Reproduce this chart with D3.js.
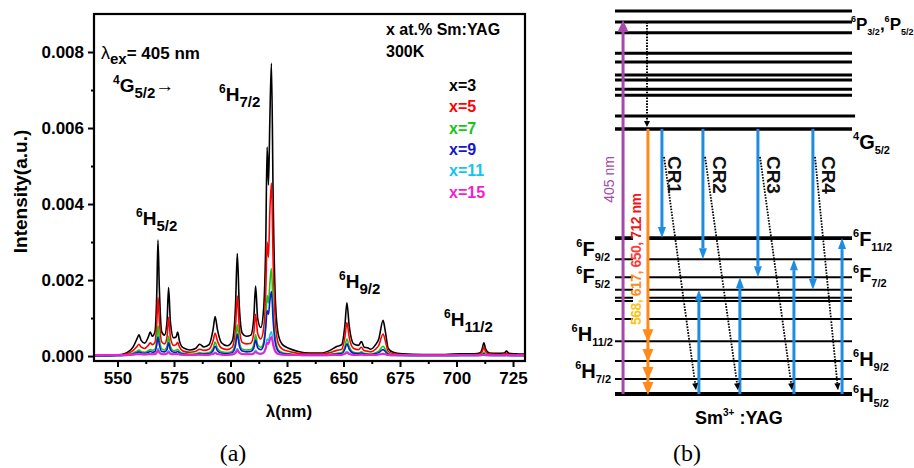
<!DOCTYPE html>
<html><head><meta charset="utf-8">
<script src="https://cdn.jsdelivr.net/npm/d3@7"></script>
<style>
body{margin:0;background:#fff}
svg{display:block;font-family:"Liberation Sans",Arial,Helvetica,sans-serif}
</style>
</head><body>
<svg id="chart" width="914" height="468"></svg>
<script>
// ---------------- Panel (a) data ----------------
const wavelengths = [
  540, 545, 550, 553, 555, 557, 558.6, 559.5, 560.4, 562,
  563.6, 564.5, 565.4, 566.6, 567.4, 567.9, 568.5, 569.5, 570.8, 571.9,
  572.6, 573.4, 574.8, 575.9, 576.6, 577.4, 579, 582, 584.5, 586.4,
  588.2, 590.5, 592.3, 593.2, 594.2, 596, 598.5, 600.8, 602.2, 603,
  603.9, 605.2, 607, 609, 610.3, 611.1, 612, 613.4, 614.6, 615.6,
  616.2, 616.8, 617.4, 618.1, 618.9, 619.9, 621.2, 623, 626, 630,
  635, 640, 644, 647, 649.2, 650.6, 651.5, 652.5, 654.5, 656.6,
  657.9, 659.2, 660.6, 662, 664.2, 665.6, 667.5, 668.5, 669.8, 672,
  676, 685, 695, 702, 708, 710.5, 711.4, 712.1, 712.9, 714.5,
  718, 721.2, 722.1, 723.2, 726, 730
];
// intensities in units of 1e-4 a.u.
const x3 = [
  0.2, 0.2, 0.3, 0.6, 1.2, 2.5, 4.5, 5.6, 4.2, 3.4,
  5.0, 6.3, 5.2, 6.5, 17, 30.5, 18, 6.5, 5.5, 9,
  18, 9, 4.8, 5, 6.3, 4, 2.2, 1.6, 2, 3.1,
  2.4, 3, 7, 10.4, 7, 3.5, 2.7, 4, 13, 27,
  13, 6, 5.2, 5.5, 10, 18.4, 10, 7.5, 12, 30,
  55, 45, 62, 77, 40, 14, 5.5, 3, 2, 1.2,
  0.8, 0.8, 1.5, 2.5, 3, 8, 14, 8, 3.2, 2.8,
  3.8, 2.3, 2.2, 1.8, 3, 4.5, 9.4, 6.5, 2, 1,
  0.6, 0.4, 0.4, 0.6, 0.6, 0.9, 2, 3.5, 1.8, 0.8,
  0.7, 0.8, 1.3, 0.7, 0.6, 0.5
];
const x5 = [
  0.1, 0.1, 0.2, 0.4, 0.8, 1.5, 2.5, 3.1, 2.4, 2,
  2.8, 3.5, 3, 3.6, 9, 15.5, 9.5, 3.8, 3.2, 5,
  10.2, 5, 2.8, 3, 3.6, 2.4, 1.3, 1, 1.2, 1.8,
  1.5, 1.8, 4, 6, 4, 2.1, 1.7, 2.4, 7.5, 15.8,
  7.5, 3.6, 3.2, 3.4, 6, 11, 6, 4.5, 7, 17,
  30, 26, 38, 45.5, 24, 8.5, 3.2, 1.8, 1.2, 0.7,
  0.5, 0.5, 0.9, 1.5, 1.8, 5, 8.8, 5, 2, 1.7,
  2.3, 1.4, 1.3, 1.1, 1.8, 2.8, 5.8, 4, 1.2, 0.6,
  0.35, 0.25, 0.25, 0.35, 0.35, 0.5, 1.2, 2.3, 1.1, 0.5,
  0.4, 0.45, 0.7, 0.4, 0.35, 0.3
];
const x7 = [
  0.1, 0.1, 0.15, 0.25, 0.4, 0.8, 1.3, 1.6, 1.2, 1,
  1.4, 1.7, 1.5, 1.8, 4.5, 8, 4.8, 1.9, 1.6, 2.5,
  5.2, 2.5, 1.4, 1.5, 1.8, 1.2, 0.7, 0.5, 0.6, 0.9,
  0.75, 0.9, 2, 3.7, 2, 1.1, 0.9, 1.3, 3.8, 8.2,
  3.8, 1.8, 1.6, 1.7, 3, 5.6, 3, 2.3, 3.6, 9,
  16, 14, 19, 23, 12, 4.3, 1.6, 0.9, 0.6, 0.35,
  0.25, 0.25, 0.45, 0.75, 0.9, 2.5, 4.5, 2.5, 1, 0.85,
  1.1, 0.7, 0.65, 0.55, 0.9, 1.3, 2.6, 1.8, 0.6, 0.3,
  0.2, 0.15, 0.15, 0.2, 0.2, 0.25, 0.5, 0.9, 0.45, 0.25,
  0.2, 0.2, 0.3, 0.2, 0.15, 0.15
];
const x9 = [
  0.05, 0.05, 0.1, 0.15, 0.3, 0.55, 0.9, 1.1, 0.85, 0.7,
  1, 1.2, 1, 1.2, 3, 5, 3, 1.2, 1.1, 1.7,
  3.5, 1.7, 1, 1, 1.2, 0.8, 0.5, 0.35, 0.4, 0.6,
  0.5, 0.6, 1.4, 2.6, 1.4, 0.75, 0.6, 0.9, 2.7, 5.8,
  2.7, 1.3, 1.1, 1.2, 2.1, 4.2, 2.2, 1.7, 2.8, 7.5,
  12, 11, 14.5, 17, 9, 3.2, 1.2, 0.65, 0.45, 0.25,
  0.2, 0.2, 0.35, 0.55, 0.65, 1.8, 3.2, 1.8, 0.7, 0.6,
  0.8, 0.5, 0.45, 0.4, 0.6, 0.9, 1.7, 1.2, 0.45, 0.2,
  0.15, 0.1, 0.1, 0.15, 0.15, 0.2, 0.35, 0.6, 0.3, 0.2,
  0.15, 0.15, 0.2, 0.15, 0.1, 0.1
];
const x11 = [
  0.15, 0.15, 0.15, 0.2, 0.25, 0.35, 0.5, 0.6, 0.5, 0.45,
  0.55, 0.6, 0.55, 0.6, 1.2, 2, 1.2, 0.6, 0.55, 0.8,
  1.4, 0.8, 0.5, 0.5, 0.6, 0.45, 0.35, 0.3, 0.3, 0.35,
  0.3, 0.35, 0.6, 1, 0.6, 0.4, 0.35, 0.45, 1, 2,
  1, 0.6, 0.5, 0.55, 0.8, 1.5, 0.9, 0.7, 1, 2.5,
  4.5, 4, 5.5, 6.4, 3.5, 1.3, 0.6, 0.4, 0.3, 0.2,
  0.15, 0.15, 0.2, 0.3, 0.35, 0.7, 1.2, 0.7, 0.35, 0.3,
  0.4, 0.3, 0.3, 0.25, 0.35, 0.45, 0.7, 0.5, 0.25, 0.15,
  0.15, 0.1, 0.1, 0.12, 0.12, 0.15, 0.2, 0.3, 0.2, 0.12,
  0.1, 0.1, 0.15, 0.1, 0.1, 0.1
];
const x15 = [
  0.25, 0.3, 0.25, 0.3, 0.3, 0.4, 0.45, 0.5, 0.45, 0.4,
  0.45, 0.5, 0.45, 0.5, 0.9, 1.5, 0.9, 0.5, 0.45, 0.65,
  1, 0.6, 0.45, 0.45, 0.5, 0.4, 0.3, 0.3, 0.3, 0.35,
  0.3, 0.35, 0.5, 0.8, 0.5, 0.35, 0.3, 0.4, 0.8, 1.5,
  0.8, 0.5, 0.45, 0.45, 0.65, 1.1, 0.7, 0.55, 0.8, 2,
  3.5, 3.2, 4.2, 5, 2.8, 1.1, 0.5, 0.35, 0.3, 0.25,
  0.2, 0.2, 0.25, 0.3, 0.3, 0.55, 0.9, 0.55, 0.3, 0.3,
  0.35, 0.3, 0.3, 0.25, 0.3, 0.4, 0.55, 0.45, 0.25, 0.2,
  0.2, 0.2, 0.2, 0.2, 0.2, 0.2, 0.25, 0.3, 0.2, 0.2,
  0.2, 0.2, 0.2, 0.2, 0.2, 0.2
];
const UNIT = 1e-4;
const seriesNames = ["x=3", "x=5", "x=7", "x=9", "x=11", "x=15"];
const seriesValues = [x3, x5, x7, x9, x11, x15];
const seriesColors = ["#000000", "#ff0000", "#17c617", "#1515d0", "#14c4ee", "#f01ed2"];
const xTickValues = [550, 575, 600, 625, 650, 675, 700, 725];
const xMinorTicks = [562.5, 587.5, 612.5, 637.5, 662.5, 687.5, 712.5];
const yTickValues = [0, 0.002, 0.004, 0.006, 0.008];
const yTickLabels = ["0.000", "0.002", "0.004", "0.006", "0.008"];
const yMinorTicks = [0.001, 0.003, 0.005, 0.007];

// ---------------- Panel (b) data (diagram units: energy 0..100, position 0..100) ----------------
const levelEnergies = [100, 97.1, 94.3, 89.0, 86.7, 83.3, 82.0, 79.6, 78.0, 72.6, 69.2,
                       40.7, 35.2, 30.5, 27.2, 25.1, 24.3, 19.6, 13.8, 8.6, 3.9, 0];
const E_4G52 = 69.2, E_6P = 97.1, E_6H52 = 0;
const crNames = ["CR1", "CR2", "CR3", "CR4"];
const crDownPos = [19.8, 37.1, 60.3, 83.5];      // donor arrow 4G5/2 -> target
const crDownTarget = [40.7, 35.2, 30.5, 27.2];   // 6F11/2, 6F9/2, 6F7/2, 6F5/2
const crUpPos = [35.4, 52.7, 75.5, 95.8];        // acceptor arrow 6H5/2 -> target
const crUpTarget = [27.2, 30.5, 35.2, 40.7];
const crDotStart = [20.7, 38.0, 61.2, 84.4];
const crDotEnd = [34.2, 51.9, 74.7, 94.1];
const emissionTargets = [13.8, 8.6, 3.9, 0];     // 6H11/2, 6H9/2, 6H7/2, 6H5/2

// ---------------- Drawing ----------------
const svg = d3.select("#chart");
const W = 914, H = 468;
svg.append("rect").attr("width", W).attr("height", H).attr("fill", "#fff");
const SERIF = "'Liberation Serif','Times New Roman',serif";

function term(g, x, y, parts, s, anchor, fill) {
  const t = g.append("text").attr("x", x).attr("y", y)
    .attr("text-anchor", anchor || "start").attr("fill", fill || "#000");
  let cur = 0;
  parts.forEach(([kind, str]) => {
    const target = kind === "sup" ? s.supDy : kind === "sub" ? s.subDy : 0;
    t.append("tspan").attr("dy", target - cur)
      .attr("font-size", s[kind]).attr("font-weight", s.weight || "bold").text(str);
    cur = target;
  });
  return t;
}

// ===== Panel (a) =====
const m = {left: 94, right: 525, top: 14, bottom: 361};
const x = d3.scaleLinear().domain([539.6, 730.3]).range([m.left, m.right]);
const y = d3.scaleLinear().domain([-0.00013, 0.009]).range([m.bottom, m.top]);
const ga = svg.append("g");

ga.append("defs").append("clipPath").attr("id", "clipA")
  .append("rect").attr("x", m.left).attr("y", m.top)
  .attr("width", m.right - m.left).attr("height", m.bottom - m.top);

const line = d3.line().x((d, i) => x(wavelengths[i])).y(d => y(d * UNIT)).curve(d3.curveMonotoneX);
const plot = ga.append("g").attr("clip-path", "url(#clipA)");
seriesValues.forEach((vals, k) => {
  plot.append("path").datum(vals).attr("d", line).attr("fill", "none")
    .attr("stroke", seriesColors[k]).attr("stroke-width", k === 5 ? 2 : 1.6)
    .attr("stroke-linejoin", "round");
});

// axes
const xAxis = d3.axisBottom(x).tickValues(xTickValues).tickSize(6).tickSizeOuter(0).tickPadding(5).tickFormat(d3.format("d"));
const gx = ga.append("g").attr("transform", `translate(0,${m.bottom})`).call(xAxis);
ga.append("g").attr("transform", `translate(0,${m.bottom})`)
  .call(d3.axisBottom(x).tickValues(xMinorTicks).tickSize(3).tickSizeOuter(0).tickFormat(""))
  .call(g => g.select(".domain").remove());
const yAxis = d3.axisLeft(y).tickValues(yTickValues).tickSize(6).tickSizeOuter(0).tickPadding(4).tickFormat((d, i) => yTickLabels[i]);
const gy = ga.append("g").attr("transform", `translate(${m.left},0)`).call(yAxis);
ga.append("g").attr("transform", `translate(${m.left},0)`)
  .call(d3.axisLeft(y).tickValues(yMinorTicks).tickSize(3).tickSizeOuter(0).tickFormat(""))
  .call(g => g.select(".domain").remove());
ga.selectAll(".tick line").attr("stroke", "#000").attr("stroke-width", 2);
[gx, gy].forEach(g => {
  g.attr("font-family", null);
  g.select(".domain").remove();
  g.selectAll("text").attr("font-size", 17).attr("font-weight", "bold").attr("fill", "#000");
});
ga.append("rect").attr("x", m.left).attr("y", m.top).attr("width", m.right - m.left)
  .attr("height", m.bottom - m.top).attr("fill", "none").attr("stroke", "#000").attr("stroke-width", 2.2);

ga.append("text").attr("transform", `translate(27,${(m.top + m.bottom) / 2 + 4}) rotate(-90)`)
  .attr("text-anchor", "middle").attr("font-size", 19).attr("font-weight", "bold").text("Intensity(a.u.)");
ga.append("text").attr("x", 289).attr("y", 417).attr("text-anchor", "middle")
  .attr("font-size", 17).attr("font-weight", "bold").text("λ(nm)");

const sA = {sup: 12, main: 19, sub: 15, supDy: -8, subDy: 6};
// λex = 405 nm
const lt = ga.append("text").attr("x", 101).attr("y", 59).attr("font-weight", "bold");
lt.append("tspan").attr("font-size", 18).attr("font-weight", "normal").text("λ");
lt.append("tspan").attr("font-size", 15).attr("dy", 5).text("ex");
lt.append("tspan").attr("font-size", 17).attr("dy", -5).text("= 405 nm");
term(ga, 113, 92, [["sup", "4"], ["main", "G"], ["sub", "5/2"], ["main", "→"]], sA);
term(ga, 219, 101, [["sup", "6"], ["main", "H"], ["sub", "7/2"]], sA);
term(ga, 136, 225, [["sup", "6"], ["main", "H"], ["sub", "5/2"]], sA);
term(ga, 339, 288, [["sup", "6"], ["main", "H"], ["sub", "9/2"]], sA);
term(ga, 444, 326, [["sup", "6"], ["main", "H"], ["sub", "11/2"]], sA);

ga.append("text").attr("x", 386).attr("y", 35).attr("font-size", 16).attr("font-weight", "bold").text("x at.% Sm:YAG");
ga.append("text").attr("x", 386).attr("y", 57).attr("font-size", 16).attr("font-weight", "bold").text("300K");
seriesNames.forEach((n, k) => {
  ga.append("text").attr("x", 449).attr("y", 91 + k * 21.3).attr("font-size", 16)
    .attr("font-weight", "bold").attr("fill", seriesColors[k]).text(n);
});
svg.append("text").attr("x", 233).attr("y", 461).attr("text-anchor", "middle")
  .style("font-family", SERIF).attr("font-size", 24).text("(a)");

// ===== Panel (b) =====
const gb = svg.append("g");
const ex = d3.scaleLinear().domain([0, 100]).range([615, 852]);
const ey = d3.scaleLinear().domain([0, 100]).range([394, 11]);
const blue = "#1d8ce3", purple = "#a54aa8", orange = "#ff8a1c";

// levels
levelEnergies.forEach((E, i) => {
  let sw = 2;
  if (i <= 9) sw = 3;
  if (E === E_4G52 || i === 11) sw = 3.6;
  if (E === E_6H52) sw = 4.2;
  gb.append("line").attr("x1", ex(0)).attr("x2", ex(i === 9 ? 101.3 : 100))
    .attr("y1", ey(E)).attr("y2", ey(E)).attr("stroke", "#000").attr("stroke-width", sw);
});

function arrow(g, x1, y1, x2, y2, color, w, hl, hw, dashed) {
  const ang = Math.atan2(y2 - y1, x2 - x1);
  const bx = x2 - hl * Math.cos(ang), by = y2 - hl * Math.sin(ang);
  g.append("line").attr("x1", x1).attr("y1", y1).attr("x2", bx).attr("y2", by)
    .attr("stroke", color).attr("stroke-width", w).attr("stroke-dasharray", dashed ? "1.6,1.3" : null);
  const px = -Math.sin(ang) * hw / 2, py = Math.cos(ang) * hw / 2;
  g.append("path").attr("d", `M${x2},${y2}L${bx + px},${by + py}L${bx - px},${by - py}Z`).attr("fill", color);
}

// white backing behind vertical emission label
gb.append("rect").attr("x", ex(7.6)).attr("y", ey(53.3)).attr("width", ex(14.3) - ex(7.6))
  .attr("height", ey(17.5) - ey(53.3)).attr("fill", "#fff");

// 405 nm excitation
arrow(gb, ex(3.4), ey(E_6H52), ex(3.4), ey(E_6P) - 2, purple, 3, 12, 11);
gb.append("text").attr("transform", `translate(${ex(-0.6)},${ey(56)}) rotate(-90)`)
  .attr("text-anchor", "middle").attr("font-size", 14).attr("fill", purple).text("405 nm");
// non-radiative to 4G5/2
arrow(gb, ex(13.5), ey(E_6P), ex(13.5), ey(E_4G52) - 2, "#000", 2, 6, 6, true);

// emission arrow (orange) with arrowheads
gb.append("line").attr("x1", ex(13.9)).attr("x2", ex(13.9)).attr("y1", ey(E_4G52)).attr("y2", ey(0) - 8)
  .attr("stroke", orange).attr("stroke-width", 3);
emissionTargets.forEach(E => {
  const tx = ex(13.9), ty = ey(E) + 1;
  gb.append("path").attr("d", `M${tx},${ty}L${tx - 5.5},${ty - 13}L${tx + 5.5},${ty - 13}Z`).attr("fill", orange);
});
const et = gb.append("text").attr("transform", `translate(${ex(11.1)},${ey(18)}) rotate(-90)`)
  .attr("font-size", 14).attr("font-weight", "bold")
  .attr("textLength", 132).attr("lengthAdjust", "spacing");
[["568, ", "#ffc21a"], ["617, ", "#ff8a1c"], ["650, ", "#ff3b3b"], ["712 nm", "#f0141e"]].forEach(([s, c]) => {
  et.append("tspan").attr("fill", c).text(s);
});

// cross relaxation channels
crNames.forEach((n, k) => {
  arrow(gb, ex(crDownPos[k]), ey(E_4G52), ex(crDownPos[k]), ey(crDownTarget[k]), blue, 3, 11, 8);
  arrow(gb, ex(crUpPos[k]), ey(E_6H52), ex(crUpPos[k]), ey(crUpTarget[k]), blue, 3, 11, 8);
  arrow(gb, ex(crDotStart[k]), ey(61.9), ex(crDotEnd[k]), ey(1.0), "#000", 1.8, 7, 6, true);
});
const crLabelPos = [25.3, 44.3, 66.7, 89.9];
crNames.forEach((n, k) => {
  gb.append("text").attr("transform", `translate(${ex(crLabelPos[k])},${ey(57.2)}) rotate(90)`)
    .attr("text-anchor", "middle").attr("dominant-baseline", "central")
    .attr("font-size", 19).attr("font-weight", "bold").attr("fill", "#111").text(n);
});

// level labels
const sB = {sup: 11, main: 20, sub: 11, supDy: -9, subDy: 5, weight: "bold"};
const sP = {sup: 9, main: 17, sub: 9, supDy: -8, subDy: 5, weight: "bold"};
term(gb, 851, 30, [["sup", "6"], ["main", "P"], ["sub", "3/2"], ["main", ","], ["sup", "6"], ["main", "P"], ["sub", "5/2"]], sP);
term(gb, 853, 149, [["sup", "4"], ["main", "G"], ["sub", "5/2"]], sB);
term(gb, 853, 246, [["sup", "6"], ["main", "F"], ["sub", "11/2"]], sB);
term(gb, 853, 282, [["sup", "6"], ["main", "F"], ["sub", "7/2"]], sB);
term(gb, 853, 366, [["sup", "6"], ["main", "H"], ["sub", "9/2"]], sB);
term(gb, 853, 402, [["sup", "6"], ["main", "H"], ["sub", "5/2"]], sB);
term(gb, 610, 256, [["sup", "6"], ["main", "F"], ["sub", "9/2"]], sB, "end");
term(gb, 610, 283, [["sup", "6"], ["main", "F"], ["sub", "5/2"]], sB, "end");
term(gb, 613, 341, [["sup", "6"], ["main", "H"], ["sub", "11/2"]], sB, "end");
term(gb, 611, 378, [["sup", "6"], ["main", "H"], ["sub", "7/2"]], sB, "end");

const sm = gb.append("text").attr("x", 695).attr("y", 424).attr("font-weight", "bold");
sm.append("tspan").attr("font-size", 18).text("Sm");
sm.append("tspan").attr("font-size", 10).attr("dy", -8).text("3+");
sm.append("tspan").attr("font-size", 18).attr("dy", 8).text(" :YAG");
svg.append("text").attr("x", 687).attr("y", 461).attr("text-anchor", "middle")
  .style("font-family", SERIF).attr("font-size", 24).text("(b)");
</script>
</body></html>
